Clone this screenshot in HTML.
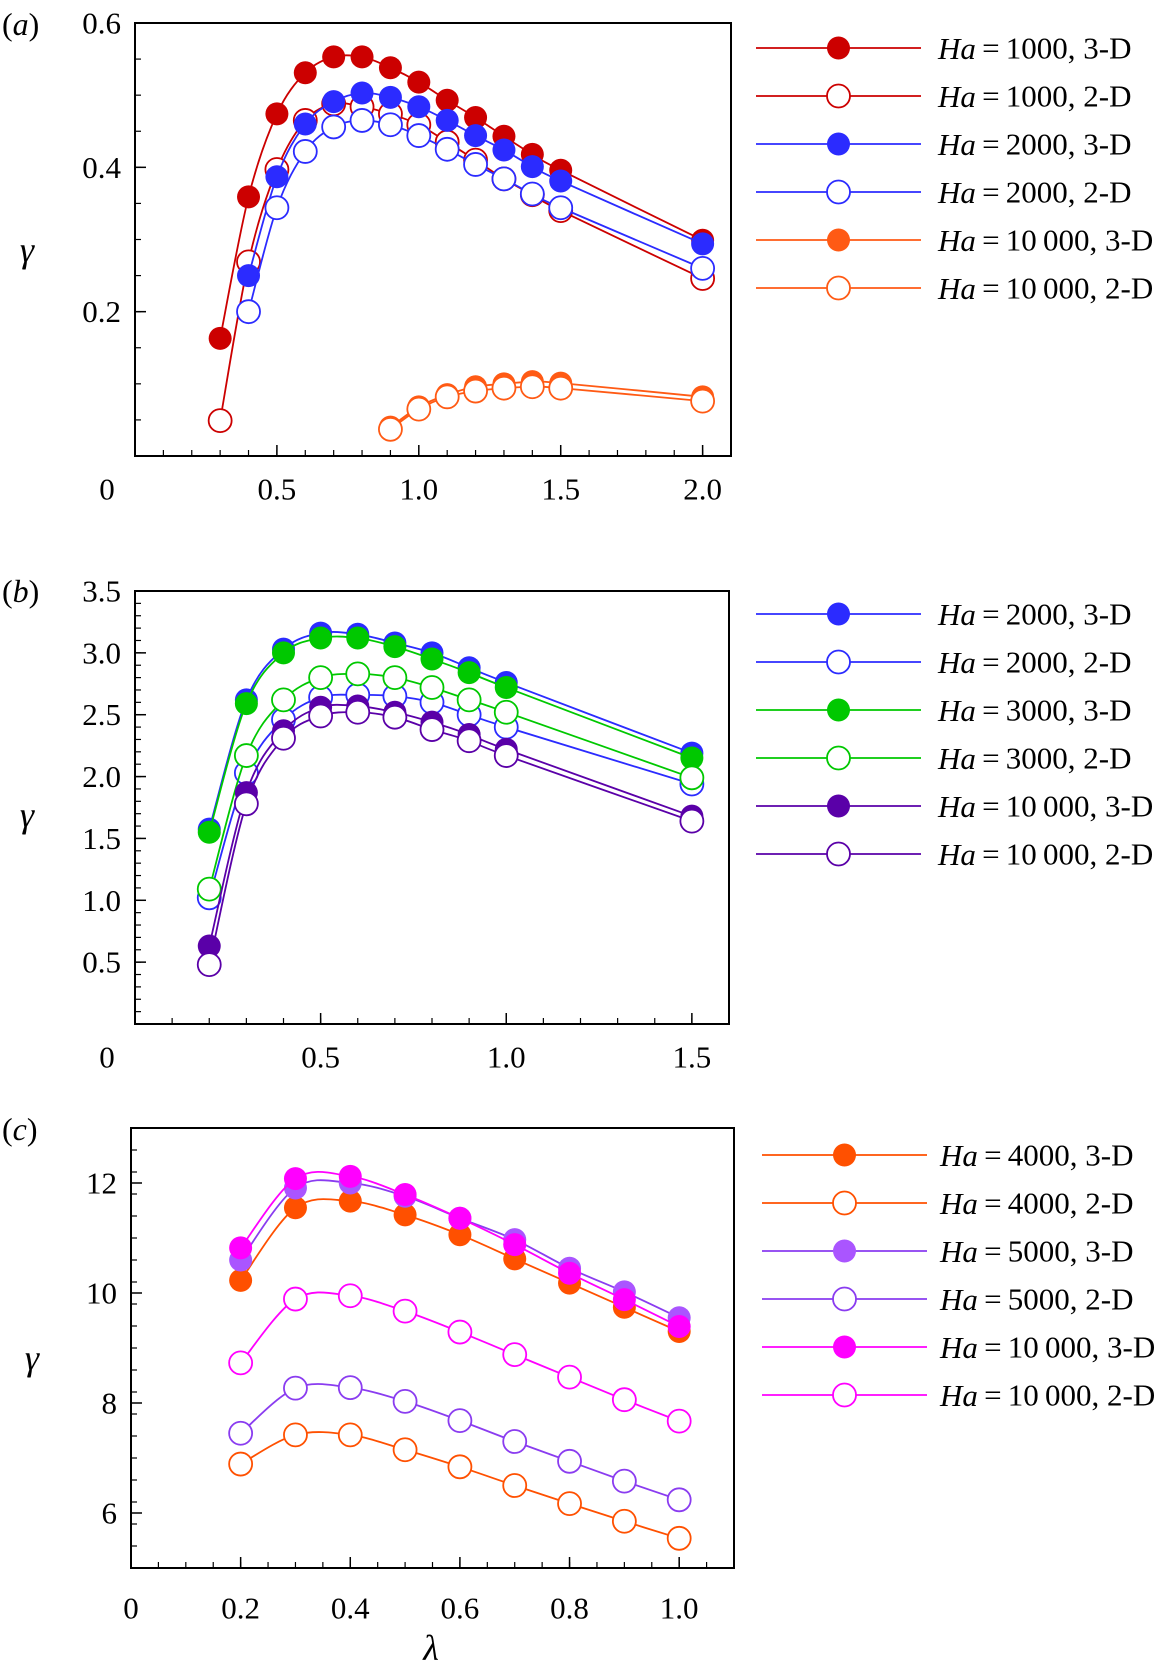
<!DOCTYPE html>
<html><head><meta charset="utf-8"><style>
html,body{margin:0;padding:0;background:#fff;}
svg{display:block;font-family:"Liberation Serif","Times New Roman",serif;}
svg text{font-family:"Liberation Serif","Times New Roman",serif;}
</style></head><body>
<svg id="fig" width="1166" height="1666" viewBox="0 0 1166 1666"></svg>
<script>
// ---------- Panel (a) data ----------
const aX1 = [0.3,0.4,0.5,0.6,0.7,0.8,0.9,1.0,1.1,1.2,1.3,1.4,1.5,2.0];
const aX2 = [0.4,0.5,0.6,0.7,0.8,0.9,1.0,1.1,1.2,1.3,1.4,1.5,2.0];
const aX3 = [0.9,1.0,1.1,1.2,1.3,1.4,1.5,2.0];
const aHa1000_3D = [0.163,0.359,0.474,0.531,0.553,0.553,0.538,0.518,0.493,0.469,0.443,0.418,0.396,0.299];
const aHa1000_2D = [0.049,0.269,0.397,0.465,0.488,0.484,0.474,0.459,0.435,0.41,0.384,0.362,0.34,0.246];
const aHa2000_3D = [0.25,0.387,0.46,0.491,0.503,0.497,0.484,0.465,0.444,0.424,0.401,0.381,0.294];
const aHa2000_2D = [0.2,0.344,0.422,0.456,0.465,0.459,0.444,0.425,0.404,0.384,0.363,0.344,0.26];
const aHa10000_3D = [0.04,0.068,0.085,0.096,0.1,0.103,0.101,0.082];
const aHa10000_2D = [0.037,0.065,0.082,0.09,0.094,0.096,0.094,0.076];
const aXTicks = [0.5,1.0,1.5,2.0];
const aYTicks = [0.2,0.4,0.6];
// ---------- Panel (b) data ----------
const bX = [0.2,0.3,0.4,0.5,0.6,0.7,0.8,0.9,1.0,1.5];
const bHa2000_3D = [1.575,2.62,3.03,3.16,3.15,3.08,3.0,2.88,2.76,2.19];
const bHa2000_2D = [1.02,2.03,2.46,2.64,2.66,2.65,2.6,2.5,2.4,1.94];
const bHa3000_3D = [1.55,2.59,3.0,3.12,3.12,3.05,2.95,2.84,2.72,2.15];
const bHa3000_2D = [1.09,2.17,2.62,2.8,2.83,2.8,2.72,2.62,2.52,1.99];
const bHa10000_3D = [0.63,1.87,2.37,2.56,2.57,2.52,2.44,2.34,2.22,1.68];
const bHa10000_2D = [0.48,1.78,2.31,2.49,2.52,2.48,2.38,2.29,2.17,1.64];
const bXTicks = [0.5,1.0,1.5];
const bYTicks = [0.5,1.0,1.5,2.0,2.5,3.0,3.5];
// ---------- Panel (c) data ----------
const cX = [0.2,0.3,0.4,0.5,0.6,0.7,0.8,0.9,1.0];
const cHa4000_3D = [10.23,11.55,11.67,11.42,11.06,10.62,10.18,9.74,9.3];
const cHa4000_2D = [6.89,7.42,7.42,7.15,6.84,6.5,6.17,5.85,5.54];
const cHa5000_3D = [10.6,11.91,12.0,11.76,11.36,10.97,10.45,10.02,9.55];
const cHa5000_2D = [7.45,8.27,8.28,8.03,7.68,7.3,6.94,6.58,6.24];
const cHa10000_3D = [10.82,12.08,12.12,11.79,11.36,10.88,10.36,9.88,9.39];
const cHa10000_2D = [8.73,9.89,9.95,9.67,9.29,8.88,8.47,8.06,7.67];
const cXTicks = [0.2,0.4,0.6,0.8,1.0];
const cYTicks = [6,8,10,12];

const NS = "http://www.w3.org/2000/svg";
const svg = document.getElementById('fig');
function mk(tag, attrs, parent){
  const e = document.createElementNS(NS, tag);
  for (const k in attrs) e.setAttribute(k, attrs[k]);
  (parent||svg).appendChild(e);
  return e;
}
function smoothPath(pts){
  let d = `M${pts[0][0]},${pts[0][1]}`;
  for (let i=0;i<pts.length-1;i++){
    const p0 = pts[i-1]||pts[i], p1=pts[i], p2=pts[i+1], p3=pts[i+2]||pts[i+1];
    const t=0.5/3;
    const c1=[p1[0]+(p2[0]-p0[0])*t, p1[1]+(p2[1]-p0[1])*t];
    const c2=[p2[0]-(p3[0]-p1[0])*t, p2[1]-(p3[1]-p1[1])*t];
    d += ` C${c1[0]},${c1[1]} ${c2[0]},${c2[1]} ${p2[0]},${p2[1]}`;
  }
  return d;
}
function fmt(v, dec){ return v===0 ? "0" : v.toFixed(dec); }

function panel(cfg){
  const g = mk('g', {});
  
  
  const {L,R,T,B,xmin,xmax,ymin,ymax} = cfg;
  const sx = v => L + (v-xmin)/(xmax-xmin)*(R-L);
  const sy = v => B - (v-ymin)/(ymax-ymin)*(B-T);
  const fr = mk('rect', {x:L,y:T,width:R-L,height:B-T,fill:'none',stroke:'#000','stroke-width':2}, g);
  
  
  for (let v=xmin+cfg.xMinor; v<xmax-1e-6; v+=cfg.xMinor){
    mk('line',{x1:sx(v),x2:sx(v),y1:B,y2:B-6,stroke:'#000','stroke-width':1.2},g);
  }
  for (let v=ymin+cfg.yMinor; v<ymax-1e-6; v+=cfg.yMinor){
    mk('line',{x1:L,x2:L+6,y1:sy(v),y2:sy(v),stroke:'#000','stroke-width':1.2},g);
  }
  cfg.xTicks.forEach(v=>{
    mk('line',{x1:sx(v),x2:sx(v),y1:B,y2:B-11,stroke:'#000','stroke-width':1.5},g);
    const t = mk('text',{x:sx(v),y:cfg.xLabY,'font-size':31,'text-anchor':'middle','dominant-baseline':'central'},g);
    t.textContent = fmt(v, cfg.xDec);
    
    
  });
  const z = mk('text',{x:cfg.zeroX,y:cfg.xLabY,'font-size':31,'text-anchor':'middle','dominant-baseline':'central'},g);
  z.textContent = '0';
  
  
  cfg.yTicks.forEach(v=>{
    mk('line',{x1:L,x2:L+11,y1:sy(v),y2:sy(v),stroke:'#000','stroke-width':1.5},g);
    const t = mk('text',{x:L-14,y:sy(v),'font-size':31,'text-anchor':'end','dominant-baseline':'central'},g);
    t.textContent = fmt(v, cfg.yDec);
    
    
  });
  const yl = mk('text',{x:cfg.yTitleX,y:cfg.yTitleY,'font-size':36,'font-style':'italic','text-anchor':'middle','dominant-baseline':'central'},g);
  yl.textContent = 'γ';
  
  
  const pl = mk('text',{x:2,y:cfg.tagY,'font-size':32,'dominant-baseline':'central'},g);
  pl.innerHTML = '(<tspan font-style="italic">'+cfg.tag+'</tspan>)';
  
  
  cfg.series.forEach((s,i)=>{
    const sg = mk('g',{},g);
    
    
    const pts = s.x.map((xv,j)=>[sx(xv), sy(s.y[j])]);
    mk('path',{d:smoothPath(pts),fill:'none',stroke:s.line,'stroke-width':1.8},sg);
    pts.forEach(p=>{
      const c = mk('circle',{cx:p[0],cy:p[1],r:11.5,fill:s.filled?s.fill:'#fff',stroke:s.filled?s.fill:s.line,'stroke-width':s.filled?0:1.8},sg);
      
      
    });
    const ly = cfg.legY0 + i*48;
    const lg = mk('g',{},g);
    
    
    mk('line',{x1:cfg.legX1,x2:cfg.legX2,y1:ly,y2:ly,stroke:s.line,'stroke-width':1.8},lg);
    mk('circle',{cx:(cfg.legX1+cfg.legX2)/2,cy:ly,r:11.5,fill:s.filled?s.fill:'#fff',stroke:s.filled?s.fill:s.line,'stroke-width':s.filled?0:1.8},lg);
    const lt = mk('text',{x:cfg.legTX,y:ly,'font-size':31,'dominant-baseline':'central'},lg);
    lt.innerHTML = '<tspan font-style="italic">Ha</tspan>\u2009=\u2009'+s.label;
  });
}

const RED='#cc0000', BLUE='#2b2bff', OR='#ff5a14', GR='#00c800', PU='#5a00a8', LPU='#8a3cf0', LPF='#aa55ff', MA='#ff00ff', ORC='#ff5000';

panel({name:'panel-a',tag:'a',tagY:24,L:135,R:731,T:23,B:456,xmin:0,xmax:2.1,ymin:0,ymax:0.6,
  xMinor:0.1,yMinor:0.05,xTicks:aXTicks,yTicks:aYTicks,xDec:1,yDec:1,xLabY:489,zeroX:107,
  yTitleX:27,yTitleY:250,legY0:48,legX1:756,legX2:921,legTX:938,
  series:[
    {key:'ha1000-3d',x:aX1,y:aHa1000_3D,line:RED,fill:RED,filled:true,label:'1000, 3-D'},
    {key:'ha1000-2d',x:aX1,y:aHa1000_2D,line:RED,filled:false,label:'1000, 2-D'},
    {key:'ha2000-3d',x:aX2,y:aHa2000_3D,line:BLUE,fill:BLUE,filled:true,label:'2000, 3-D'},
    {key:'ha2000-2d',x:aX2,y:aHa2000_2D,line:BLUE,filled:false,label:'2000, 2-D'},
    {key:'ha10000-3d',x:aX3,y:aHa10000_3D,line:OR,fill:OR,filled:true,label:'10\u2009000, 3-D'},
    {key:'ha10000-2d',x:aX3,y:aHa10000_2D,line:OR,filled:false,label:'10\u2009000, 2-D'}
  ]});

panel({name:'panel-b',tag:'b',tagY:591,L:135,R:729,T:591,B:1024,xmin:0,xmax:1.6,ymin:0,ymax:3.5,
  xMinor:0.1,yMinor:0.1,xTicks:bXTicks,yTicks:bYTicks,xDec:1,yDec:1,xLabY:1057,zeroX:107,
  yTitleX:27,yTitleY:815,legY0:614,legX1:756,legX2:921,legTX:938,
  series:[
    {key:'ha2000-3d',x:bX,y:bHa2000_3D,line:BLUE,fill:BLUE,filled:true,label:'2000, 3-D'},
    {key:'ha2000-2d',x:bX,y:bHa2000_2D,line:BLUE,filled:false,label:'2000, 2-D'},
    {key:'ha3000-3d',x:bX,y:bHa3000_3D,line:GR,fill:GR,filled:true,label:'3000, 3-D'},
    {key:'ha3000-2d',x:bX,y:bHa3000_2D,line:GR,filled:false,label:'3000, 2-D'},
    {key:'ha10000-3d',x:bX,y:bHa10000_3D,line:PU,fill:PU,filled:true,label:'10\u2009000, 3-D'},
    {key:'ha10000-2d',x:bX,y:bHa10000_2D,line:PU,filled:false,label:'10\u2009000, 2-D'}
  ]});

panel({name:'panel-c',tag:'c',tagY:1129,L:131,R:734,T:1128,B:1568,xmin:0,xmax:1.1,ymin:5,ymax:13,
  xMinor:0.05,yMinor:0.4,xTicks:cXTicks,yTicks:cYTicks,xDec:1,yDec:0,xLabY:1608,zeroX:131,
  yTitleX:32,yTitleY:1358,legY0:1155,legX1:762,legX2:927,legTX:940,
  series:[
    {key:'ha4000-3d',x:cX,y:cHa4000_3D,line:ORC,fill:ORC,filled:true,label:'4000, 3-D'},
    {key:'ha4000-2d',x:cX,y:cHa4000_2D,line:ORC,filled:false,label:'4000, 2-D'},
    {key:'ha5000-3d',x:cX,y:cHa5000_3D,line:LPU,fill:LPF,filled:true,label:'5000, 3-D'},
    {key:'ha5000-2d',x:cX,y:cHa5000_2D,line:LPU,filled:false,label:'5000, 2-D'},
    {key:'ha10000-3d',x:cX,y:cHa10000_3D,line:MA,fill:MA,filled:true,label:'10\u2009000, 3-D'},
    {key:'ha10000-2d',x:cX,y:cHa10000_2D,line:MA,filled:false,label:'10\u2009000, 2-D'}
  ]});

const xt = mk('text',{x:431,y:1648,'font-size':36,'font-style':'italic','text-anchor':'middle','dominant-baseline':'central'});
xt.textContent = 'λ';


</script>
</body></html>
